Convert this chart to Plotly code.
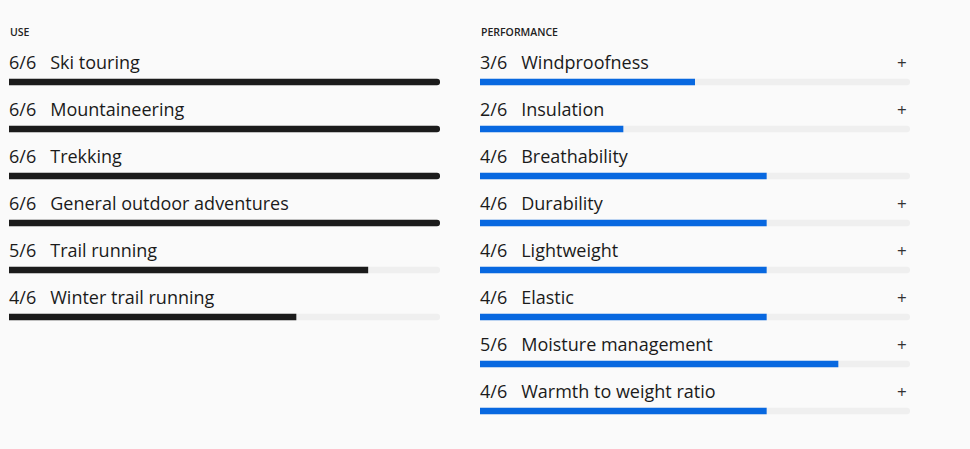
import plotly.graph_objects as go

use_labels = ["Ski touring", "Mountaineering", "Trekking", "General outdoor adventures",
              "Trail running", "Winter trail running"]
use_scores = [6, 6, 6, 6, 5, 4]

perf_labels = ["Windproofness", "Insulation", "Breathability", "Durability",
               "Lightweight", "Elastic", "Moisture management", "Warmth to weight ratio"]
perf_scores = [3, 2, 4, 4, 4, 4, 5, 4]
perf_expand = [True, True, False, True, True, True, True, True]

max_score = 6
W, H = 970, 449
ROW = 47.0
FIRST_BAR = 82.0
BAR_PX = 6.5
FONT = "Open Sans, sans-serif"

def yrange():
    top = -FIRST_BAR / ROW
    bottom = (H - FIRST_BAR) / ROW
    return [bottom, top]

fig = go.Figure()
bw = BAR_PX / ROW

def add_panel(labels, scores, color, xa, ya):
    n = len(labels)
    ys = list(range(n))
    fig.add_trace(go.Bar(x=[max_score] * n, y=ys, orientation="h", width=bw,
                         marker=dict(color="#efefef", line=dict(width=0), cornerradius=3),
                         xaxis=xa, yaxis=ya, hoverinfo="skip", showlegend=False))
    fig.add_trace(go.Bar(x=scores, y=ys, orientation="h", width=bw,
                         marker=dict(color=color, line=dict(width=0), cornerradius=3),
                         xaxis=xa, yaxis=ya, hoverinfo="skip", showlegend=False))
    for i, (lab, s) in enumerate(zip(labels, scores)):
        fig.add_annotation(x=0, y=i, xref=xa, yref=ya, xanchor="left", yanchor="middle",
                           xshift=-2, yshift=20, showarrow=False,
                           text=f"{s}/{max_score}&nbsp;&nbsp;&nbsp;{lab}",
                           font=dict(size=18, color="#1b1b1b", family=FONT))

add_panel(use_labels, use_scores, "#1b1b1b", "x", "y")
add_panel(perf_labels, perf_scores, "#0868e0", "x2", "y2")

for i, e in enumerate(perf_expand):
    if e:
        fig.add_annotation(x=902 / W, y=i, xref="paper", yref="y2", xanchor="center",
                           yanchor="middle", yshift=20, showarrow=False, text="+",
                           font=dict(size=17, color="#333333", family=FONT))

fig.add_annotation(x=8 / W, y=1 - 32 / H, xref="paper", yref="paper", xanchor="left",
                   yanchor="middle", showarrow=False, text="USE",
                   font=dict(size=10.5, color="#222222", family=FONT, weight=600))
fig.add_annotation(x=479 / W, y=1 - 32 / H, xref="paper", yref="paper", xanchor="left",
                   yanchor="middle", showarrow=False, text="PERFORMANCE",
                   font=dict(size=10.5, color="#222222", family=FONT, weight=600))

axis_common = dict(showgrid=False, zeroline=False, showticklabels=False, showline=False,
                   fixedrange=True)
fig.update_layout(
    width=W, height=H,
    margin=dict(l=0, r=0, t=0, b=0),
    paper_bgcolor="#fafafa", plot_bgcolor="#fafafa",
    font=dict(family=FONT),
    barmode="overlay",
    xaxis=dict(domain=[9 / W, 440 / W], range=[0, max_score], **axis_common),
    yaxis=dict(domain=[0, 1], range=yrange(), **axis_common),
    xaxis2=dict(domain=[480 / W, 910 / W], range=[0, max_score], anchor="y2", **axis_common),
    yaxis2=dict(domain=[0, 1], range=yrange(), anchor="x2", **axis_common),
)

fig.write_html("out.html", config={"displayModeBar": False},
               post_script="document.body.style.margin='0px';document.body.style.background='#fafafa';")
